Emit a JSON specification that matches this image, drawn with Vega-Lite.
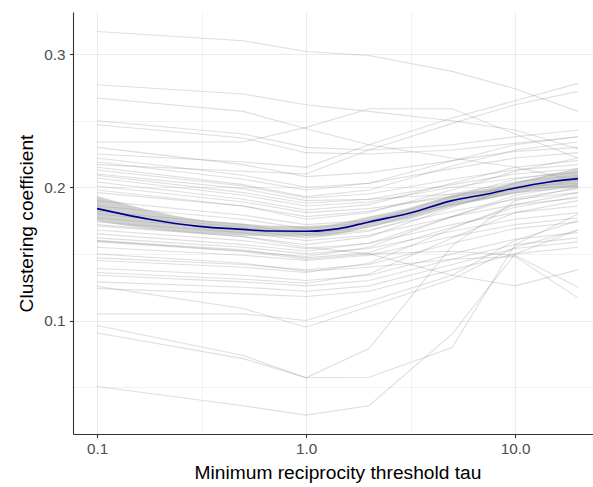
{
  "$schema": "https://vega.github.io/schema/vega-lite/v6.json",
  "autosize": {"type": "none"},
  "padding": {"left": 73, "top": 12, "right": 0, "bottom": 53},
  "width": 520,
  "height": 422,
  "background": "white",
  "config": {
    "view": {"stroke": null},
    "font": "Liberation Sans",
    "axis": {"labelFont": "Liberation Sans", "titleFont": "Liberation Sans", "labelFontSize": 15.3, "titleFontSize": 19.2, "titleFontWeight": "normal", "labelColor": "#4d4d4d", "titleColor": "#000000", "domainColor": "#333333", "domainWidth": 1.1, "tickColor": "#333333", "tickWidth": 1.1, "tickSize": 3.5, "gridColor": "#ebebeb"}
  },
  "datasets": {
    "lines": [
      {"g":"L1","t":0.1,"c":0.317},{"g":"L1","t":0.5,"c":0.310},{"g":"L1","t":1,"c":0.302},{"g":"L1","t":2,"c":0.299},{"g":"L1","t":5,"c":0.287},{"g":"L1","t":10,"c":0.274},{"g":"L1","t":20,"c":0.257},
      {"g":"L2","t":0.1,"c":0.277},{"g":"L2","t":0.5,"c":0.270},{"g":"L2","t":1,"c":0.262},{"g":"L2","t":2,"c":0.257},{"g":"L2","t":5,"c":0.250},{"g":"L2","t":10,"c":0.243},{"g":"L2","t":20,"c":0.229},
      {"g":"L3","t":0.1,"c":0.267},{"g":"L3","t":0.5,"c":0.257},{"g":"L3","t":1,"c":0.244},{"g":"L3","t":2,"c":0.232},{"g":"L3","t":5,"c":0.222},{"g":"L3","t":10,"c":0.215},{"g":"L3","t":20,"c":0.205},
      {"g":"L7","t":0.1,"c":0.250},{"g":"L7","t":0.5,"c":0.240},{"g":"L7","t":1,"c":0.230},{"g":"L7","t":2,"c":0.228},{"g":"L7","t":5,"c":0.232},{"g":"L7","t":10,"c":0.238},{"g":"L7","t":20,"c":0.243},
      {"g":"L8","t":0.1,"c":0.247},{"g":"L8","t":0.5,"c":0.237},{"g":"L8","t":1,"c":0.226},{"g":"L8","t":2,"c":0.225},{"g":"L8","t":5,"c":0.228},{"g":"L8","t":10,"c":0.233},{"g":"L8","t":20,"c":0.238},
      {"g":"L4","t":0.1,"c":0.234},{"g":"L4","t":0.5,"c":0.234},{"g":"L4","t":1,"c":0.245},{"g":"L4","t":2,"c":0.259},{"g":"L4","t":5,"c":0.259},{"g":"L4","t":10,"c":0.240},{"g":"L4","t":20,"c":0.222},
      {"g":"M2","t":0.1,"c":0.230},{"g":"M2","t":0.5,"c":0.217},{"g":"M2","t":1,"c":0.208},{"g":"M2","t":2,"c":0.211},{"g":"M2","t":5,"c":0.220},{"g":"M2","t":10,"c":0.227},{"g":"M2","t":20,"c":0.230},
      {"g":"L5","t":0.1,"c":0.225},{"g":"L5","t":0.5,"c":0.219},{"g":"L5","t":1,"c":0.215},{"g":"L5","t":2,"c":0.232},{"g":"L5","t":5,"c":0.252},{"g":"L5","t":10,"c":0.265},{"g":"L5","t":20,"c":0.278},
      {"g":"M4","t":0.1,"c":0.222},{"g":"M4","t":0.5,"c":0.209},{"g":"M4","t":1,"c":0.200},{"g":"M4","t":2,"c":0.203},{"g":"M4","t":5,"c":0.214},{"g":"M4","t":10,"c":0.222},{"g":"M4","t":20,"c":0.226},
      {"g":"M5","t":0.1,"c":0.219},{"g":"M5","t":0.5,"c":0.206},{"g":"M5","t":1,"c":0.198},{"g":"M5","t":2,"c":0.203},{"g":"M5","t":5,"c":0.220},{"g":"M5","t":10,"c":0.232},{"g":"M5","t":20,"c":0.238},
      {"g":"L6","t":0.1,"c":0.217},{"g":"L6","t":0.5,"c":0.212},{"g":"L6","t":1,"c":0.210},{"g":"L6","t":2,"c":0.228},{"g":"L6","t":5,"c":0.248},{"g":"L6","t":10,"c":0.262},{"g":"L6","t":20,"c":0.272},
      {"g":"M7","t":0.1,"c":0.215},{"g":"M7","t":0.5,"c":0.202},{"g":"M7","t":1,"c":0.193},{"g":"M7","t":2,"c":0.198},{"g":"M7","t":5,"c":0.216},{"g":"M7","t":10,"c":0.228},{"g":"M7","t":20,"c":0.234},
      {"g":"M8","t":0.1,"c":0.213},{"g":"M8","t":0.5,"c":0.201},{"g":"M8","t":1,"c":0.192},{"g":"M8","t":2,"c":0.195},{"g":"M8","t":5,"c":0.206},{"g":"M8","t":10,"c":0.213},{"g":"M8","t":20,"c":0.217},
      {"g":"M9","t":0.1,"c":0.209},{"g":"M9","t":0.5,"c":0.196},{"g":"M9","t":1,"c":0.188},{"g":"M9","t":2,"c":0.191},{"g":"M9","t":5,"c":0.202},{"g":"M9","t":10,"c":0.210},{"g":"M9","t":20,"c":0.214},
      {"g":"M10","t":0.1,"c":0.207},{"g":"M10","t":0.5,"c":0.194},{"g":"M10","t":1,"c":0.186},{"g":"M10","t":2,"c":0.189},{"g":"M10","t":5,"c":0.200},{"g":"M10","t":10,"c":0.207},{"g":"M10","t":20,"c":0.211},
      {"g":"M11","t":0.1,"c":0.204},{"g":"M11","t":0.5,"c":0.191},{"g":"M11","t":1,"c":0.183},{"g":"M11","t":2,"c":0.187},{"g":"M11","t":5,"c":0.203},{"g":"M11","t":10,"c":0.215},{"g":"M11","t":20,"c":0.220},
      {"g":"M12","t":0.1,"c":0.201},{"g":"M12","t":0.5,"c":0.189},{"g":"M12","t":1,"c":0.181},{"g":"M12","t":2,"c":0.184},{"g":"M12","t":5,"c":0.193},{"g":"M12","t":10,"c":0.200},{"g":"M12","t":20,"c":0.203},
      {"g":"M13","t":0.1,"c":0.198},{"g":"M13","t":0.5,"c":0.186},{"g":"M13","t":1,"c":0.178},{"g":"M13","t":2,"c":0.182},{"g":"M13","t":5,"c":0.195},{"g":"M13","t":10,"c":0.204},{"g":"M13","t":20,"c":0.209},
      {"g":"M32","t":0.1,"c":0.196},{"g":"M32","t":0.5,"c":0.186},{"g":"M32","t":1,"c":0.176},{"g":"M32","t":2,"c":0.181},{"g":"M32","t":5,"c":0.198},{"g":"M32","t":10,"c":0.212},{"g":"M32","t":20,"c":0.222},
      {"g":"M35","t":0.1,"c":0.210},{"g":"M35","t":0.5,"c":0.199},{"g":"M35","t":1,"c":0.190},{"g":"M35","t":2,"c":0.191},{"g":"M35","t":5,"c":0.195},{"g":"M35","t":10,"c":0.199},{"g":"M35","t":20,"c":0.201},
      {"g":"M14","t":0.1,"c":0.190},{"g":"M14","t":0.5,"c":0.179},{"g":"M14","t":1,"c":0.172},{"g":"M14","t":2,"c":0.175},{"g":"M14","t":5,"c":0.187},{"g":"M14","t":10,"c":0.196},{"g":"M14","t":20,"c":0.200},
      {"g":"M15","t":0.1,"c":0.186},{"g":"M15","t":0.5,"c":0.176},{"g":"M15","t":1,"c":0.169},{"g":"M15","t":2,"c":0.174},{"g":"M15","t":5,"c":0.193},{"g":"M15","t":10,"c":0.206},{"g":"M15","t":20,"c":0.213},
      {"g":"M33","t":0.1,"c":0.182},{"g":"M33","t":0.5,"c":0.172},{"g":"M33","t":1,"c":0.165},{"g":"M33","t":2,"c":0.170},{"g":"M33","t":5,"c":0.188},{"g":"M33","t":10,"c":0.203},{"g":"M33","t":20,"c":0.214},
      {"g":"M16","t":0.1,"c":0.180},{"g":"M16","t":0.5,"c":0.170},{"g":"M16","t":1,"c":0.164},{"g":"M16","t":2,"c":0.168},{"g":"M16","t":5,"c":0.182},{"g":"M16","t":10,"c":0.191},{"g":"M16","t":20,"c":0.196},
      {"g":"M17","t":0.1,"c":0.177},{"g":"M17","t":0.5,"c":0.168},{"g":"M17","t":1,"c":0.162},{"g":"M17","t":2,"c":0.167},{"g":"M17","t":5,"c":0.186},{"g":"M17","t":10,"c":0.199},{"g":"M17","t":20,"c":0.205},
      {"g":"M18","t":0.1,"c":0.174},{"g":"M18","t":0.5,"c":0.166},{"g":"M18","t":1,"c":0.160},{"g":"M18","t":2,"c":0.164},{"g":"M18","t":5,"c":0.178},{"g":"M18","t":10,"c":0.187},{"g":"M18","t":20,"c":0.192},
      {"g":"S1","t":0.1,"c":0.172},{"g":"S1","t":0.5,"c":0.163},{"g":"S1","t":1,"c":0.155},{"g":"S1","t":2,"c":0.150},{"g":"S1","t":5,"c":0.134},{"g":"S1","t":10,"c":0.126},{"g":"S1","t":20,"c":0.138},
      {"g":"M19","t":0.1,"c":0.171},{"g":"M19","t":0.5,"c":0.163},{"g":"M19","t":1,"c":0.157},{"g":"M19","t":2,"c":0.163},{"g":"M19","t":5,"c":0.185},{"g":"M19","t":10,"c":0.200},{"g":"M19","t":20,"c":0.208},
      {"g":"M20","t":0.1,"c":0.168},{"g":"M20","t":0.5,"c":0.160},{"g":"M20","t":1,"c":0.154},{"g":"M20","t":2,"c":0.158},{"g":"M20","t":5,"c":0.172},{"g":"M20","t":10,"c":0.181},{"g":"M20","t":20,"c":0.186},
      {"g":"M21","t":0.1,"c":0.165},{"g":"M21","t":0.5,"c":0.157},{"g":"M21","t":1,"c":0.152},{"g":"M21","t":2,"c":0.158},{"g":"M21","t":5,"c":0.178},{"g":"M21","t":10,"c":0.192},{"g":"M21","t":20,"c":0.199},
      {"g":"M22","t":0.1,"c":0.162},{"g":"M22","t":0.5,"c":0.155},{"g":"M22","t":1,"c":0.150},{"g":"M22","t":2,"c":0.154},{"g":"M22","t":5,"c":0.167},{"g":"M22","t":10,"c":0.176},{"g":"M22","t":20,"c":0.181},
      {"g":"S2","t":0.1,"c":0.160},{"g":"S2","t":0.5,"c":0.152},{"g":"S2","t":1,"c":0.146},{"g":"S2","t":2,"c":0.150},{"g":"S2","t":5,"c":0.152},{"g":"S2","t":10,"c":0.149},{"g":"S2","t":20,"c":0.125},
      {"g":"M34","t":0.1,"c":0.160},{"g":"M34","t":0.5,"c":0.153},{"g":"M34","t":1,"c":0.147},{"g":"M34","t":2,"c":0.151},{"g":"M34","t":5,"c":0.170},{"g":"M34","t":10,"c":0.185},{"g":"M34","t":20,"c":0.193},
      {"g":"M23","t":0.1,"c":0.159},{"g":"M23","t":0.5,"c":0.152},{"g":"M23","t":1,"c":0.148},{"g":"M23","t":2,"c":0.155},{"g":"M23","t":5,"c":0.178},{"g":"M23","t":10,"c":0.194},{"g":"M23","t":20,"c":0.202},
      {"g":"M24","t":0.1,"c":0.155},{"g":"M24","t":0.5,"c":0.149},{"g":"M24","t":1,"c":0.145},{"g":"M24","t":2,"c":0.149},{"g":"M24","t":5,"c":0.163},{"g":"M24","t":10,"c":0.172},{"g":"M24","t":20,"c":0.177},
      {"g":"S3","t":0.1,"c":0.150},{"g":"S3","t":0.5,"c":0.143},{"g":"S3","t":1,"c":0.137},{"g":"S3","t":2,"c":0.140},{"g":"S3","t":5,"c":0.146},{"g":"S3","t":10,"c":0.148},{"g":"S3","t":20,"c":0.117},
      {"g":"M25","t":0.1,"c":0.147},{"g":"M25","t":0.5,"c":0.142},{"g":"M25","t":1,"c":0.138},{"g":"M25","t":2,"c":0.142},{"g":"M25","t":5,"c":0.158},{"g":"M25","t":10,"c":0.169},{"g":"M25","t":20,"c":0.174},
      {"g":"M26","t":0.1,"c":0.145},{"g":"M26","t":0.5,"c":0.140},{"g":"M26","t":1,"c":0.136},{"g":"M26","t":2,"c":0.143},{"g":"M26","t":5,"c":0.169},{"g":"M26","t":10,"c":0.187},{"g":"M26","t":20,"c":0.196},
      {"g":"M27","t":0.1,"c":0.139},{"g":"M27","t":0.5,"c":0.134},{"g":"M27","t":1,"c":0.130},{"g":"M27","t":2,"c":0.134},{"g":"M27","t":5,"c":0.150},{"g":"M27","t":10,"c":0.161},{"g":"M27","t":20,"c":0.166},
      {"g":"M28","t":0.1,"c":0.136},{"g":"M28","t":0.5,"c":0.131},{"g":"M28","t":1,"c":0.128},{"g":"M28","t":2,"c":0.135},{"g":"M28","t":5,"c":0.162},{"g":"M28","t":10,"c":0.181},{"g":"M28","t":20,"c":0.190},
      {"g":"M29","t":0.1,"c":0.134},{"g":"M29","t":0.5,"c":0.129},{"g":"M29","t":1,"c":0.126},{"g":"M29","t":2,"c":0.130},{"g":"M29","t":5,"c":0.146},{"g":"M29","t":10,"c":0.157},{"g":"M29","t":20,"c":0.162},
      {"g":"M30","t":0.1,"c":0.129},{"g":"M30","t":0.5,"c":0.125},{"g":"M30","t":1,"c":0.122},{"g":"M30","t":2,"c":0.126},{"g":"M30","t":5,"c":0.142},{"g":"M30","t":10,"c":0.154},{"g":"M30","t":20,"c":0.159},
      {"g":"M31","t":0.1,"c":0.124},{"g":"M31","t":0.5,"c":0.120},{"g":"M31","t":1,"c":0.118},{"g":"M31","t":2,"c":0.122},{"g":"M31","t":5,"c":0.138},{"g":"M31","t":10,"c":0.150},{"g":"M31","t":20,"c":0.155},
      {"g":"B2","t":0.1,"c":0.1256},{"g":"B2","t":0.5,"c":0.109},{"g":"B2","t":1,"c":0.095},{"g":"B2","t":2,"c":0.1105},{"g":"B2","t":5,"c":0.131},{"g":"B2","t":10,"c":0.155},{"g":"B2","t":20,"c":0.168},
      {"g":"B1","t":0.1,"c":0.105},{"g":"B1","t":0.5,"c":0.105},{"g":"B1","t":1,"c":0.100},{"g":"B1","t":2,"c":0.1145},{"g":"B1","t":5,"c":0.134},{"g":"B1","t":10,"c":0.160},{"g":"B1","t":20,"c":0.175},
      {"g":"A","t":0.1,"c":0.0962},{"g":"A","t":0.5,"c":0.0737},{"g":"A","t":1,"c":0.057},{"g":"A","t":2,"c":0.079},{"g":"A","t":5,"c":0.156},{"g":"A","t":10,"c":0.190},{"g":"A","t":20,"c":0.200},
      {"g":"B","t":0.1,"c":0.0906},{"g":"B","t":0.5,"c":0.0714},{"g":"B","t":1,"c":0.057},{"g":"B","t":2,"c":0.0574},{"g":"B","t":5,"c":0.0797},{"g":"B","t":10,"c":0.157},{"g":"B","t":20,"c":0.180},
      {"g":"C","t":0.1,"c":0.0504},{"g":"C","t":0.5,"c":0.036},{"g":"C","t":1,"c":0.029},{"g":"C","t":2,"c":0.036},{"g":"C","t":5,"c":0.090},{"g":"C","t":10,"c":0.150},{"g":"C","t":20,"c":0.168}
    ],
    "fit": [
      {"t":0.1,"f":0.184,"lo":0.1745,"hi":0.1935},
      {"t":0.1773,"f":0.176,"lo":0.169,"hi":0.183},
      {"t":0.3076,"f":0.1707,"lo":0.1657,"hi":0.1757},
      {"t":0.5,"f":0.1684,"lo":0.1639,"hi":0.1729},
      {"t":0.665,"f":0.1672,"lo":0.1632,"hi":0.1712},
      {"t":1,"f":0.167,"lo":0.163,"hi":0.171},
      {"t":1.439,"f":0.169,"lo":0.165,"hi":0.173},
      {"t":2,"f":0.174,"lo":0.170,"hi":0.178},
      {"t":3.11,"f":0.1805,"lo":0.1765,"hi":0.1845},
      {"t":5,"f":0.190,"lo":0.186,"hi":0.194},
      {"t":7.51,"f":0.1952,"lo":0.1912,"hi":0.1992},
      {"t":10,"f":0.1995,"lo":0.1953,"hi":0.2037},
      {"t":14.55,"f":0.204,"lo":0.199,"hi":0.209},
      {"t":20,"f":0.2065,"lo":0.200,"hi":0.213}
    ]
  },
  "layer": [
    {
      "data": {"name": "lines"},
      "mark": {"type": "line", "stroke": "#7f7f7f", "strokeOpacity": 0.25, "strokeWidth": 1.1},
      "encoding": {
        "x": {
          "field": "t", "type": "quantitative",
          "scale": {"type": "log", "domain": [0.0767, 23.6], "nice": false},
          "axis": {
            "title": "Minimum reciprocity threshold tau",
            "values": [0.1, 0.316228, 1, 3.16228, 10],
            "labelExpr": "abs(datum.value-0.1)<0.001 ? '0.1' : abs(datum.value-1)<0.001 ? '1.0' : abs(datum.value-10)<0.01 ? '10.0' : ''",
            "labelPadding": 4,
            "labelFlush": false,
            "labelOverlap": false,
            "tickOpacity": {"condition": {"test": "(datum.value>0.2 && datum.value<0.5) || (datum.value>2 && datum.value<5)", "value": 0}, "value": 1},
            "gridWidth": {"condition": {"test": "(datum.value>0.2 && datum.value<0.5) || (datum.value>2 && datum.value<5)", "value": 0.6}, "value": 1.1},
            "titleX": 264.5, "titleY": 44, "titleBaseline": "alphabetic", "titleAlign": "center", "titleAnchor": null
          }
        },
        "y": {
          "field": "c", "type": "quantitative",
          "scale": {"domain": [0.0148, 0.3316], "nice": false, "zero": false},
          "axis": {
            "title": "Clustering coefficient",
            "values": [0.05, 0.1, 0.15, 0.2, 0.25, 0.3],
            "labelExpr": "(abs(datum.value-0.1)<0.001 || abs(datum.value-0.2)<0.001 || abs(datum.value-0.3)<0.001) ? format(datum.value, '.1f') : ''",
            "labelPadding": 4.5,
            "labelOverlap": false,
            "tickOpacity": {"condition": {"test": "abs(datum.value-0.05)<0.001 || abs(datum.value-0.15)<0.001 || abs(datum.value-0.25)<0.001", "value": 0}, "value": 1},
            "gridWidth": {"condition": {"test": "abs(datum.value-0.05)<0.001 || abs(datum.value-0.15)<0.001 || abs(datum.value-0.25)<0.001", "value": 0.6}, "value": 1.1},
            "titleX": -41, "titleY": 211, "titleBaseline": "alphabetic", "titleAlign": "center", "titleAngle": 270, "titleAnchor": null
          }
        },
        "detail": {"field": "g", "type": "nominal"}
      }
    },
    {
      "data": {"name": "fit"},
      "mark": {"type": "area", "fill": "#999999", "fillOpacity": 0.45, "interpolate": "monotone"},
      "encoding": {
        "x": {"field": "t", "type": "quantitative"},
        "y": {"field": "lo", "type": "quantitative"},
        "y2": {"field": "hi"}
      }
    },
    {
      "data": {"name": "fit"},
      "mark": {"type": "line", "stroke": "#00008B", "strokeWidth": 1.6, "interpolate": "monotone"},
      "encoding": {
        "x": {"field": "t", "type": "quantitative"},
        "y": {"field": "f", "type": "quantitative"}
      }
    },
    {
      "mark": {"type": "rule", "color": "#333333", "strokeWidth": 1.1},
      "encoding": {"y": {"datum": 0.3316}}
    }
  ]
}
